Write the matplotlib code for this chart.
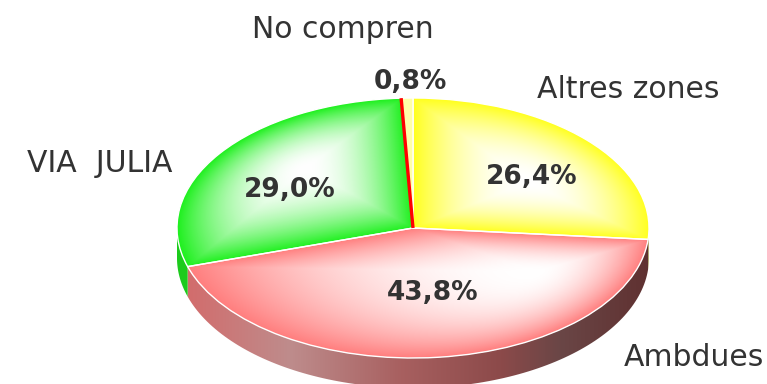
"""
3D-style pie chart: zona de residència.
"""

import numpy as np
import matplotlib
matplotlib.use('Agg')
import matplotlib.pyplot as plt
from matplotlib.colors import to_rgb
from matplotlib.patches import Polygon

# Data
labels = ['Altres zones', 'Ambdues', 'VIA  JULIA', 'No compren']
values = [26.4, 43.8, 29.0, 0.8]
pct_text = ['26,4%', '43,8%', '29,0%', '0,8%']

# Styling
base_colors = ['#FFFF1E', '#FF7E7E', '#1EF01E', '#FFFFA8']
shine_centre = [(527, 182), (535, 272), (305, 168), None]   # pixel centre of the path gradient
side_yellow = '#B4AE70'
side_green = '#1CCB1C'
text_color = '#333333'

W, H = 767, 384
cx, cy = 413, 228          # pie centre (pixels)
a, b = 236, 130            # ellipse half axes (pixels)
depth = 30                 # thickness of the side (pixels)
dd = depth / b

fig = plt.figure(figsize=(W / 100, H / 100), dpi=100)
fig.patch.set_facecolor('white')

bottom_px = H - (cy + b + depth)
ax = fig.add_axes([(cx - a) / W, bottom_px / H, 2 * a / W, (2 * b + depth) / H])

wedges, _ = ax.pie(values, startangle=90, counterclock=False, radius=1,
                   colors=base_colors,
                   wedgeprops=dict(edgecolor='white', linewidth=1.0))
ax.set_aspect('auto')
ax.set_xlim(-1, 1)
ax.set_ylim(-1 - dd, 1)
ax.axis('off')

# grid for the gradient images (data coords -> pixels)
nx, ny = 480, 300
gx = np.linspace(-1, 1, nx)
gy = np.linspace(-1 - dd, 1, ny)
X, Y = np.meshgrid(gx, gy)
PX = cx + a * X
PY = cy - b * Y
extent = [-1, 1, -1 - dd, 1]


def to_px(pts):
    return np.column_stack([cx + a * pts[:, 0], cy - b * pts[:, 1]])


def path_gradient(w, base, centre):
    # white at centre, full colour on the slice outline (convex polygon)
    th = np.radians(np.linspace(w.theta1, w.theta2, 90))
    outline = np.vstack([[0, 0], np.column_stack([np.cos(th), np.sin(th)])])
    poly = to_px(outline)
    c = np.array(centre, dtype=float)
    s = np.zeros_like(PX)
    n = len(poly)
    for i in range(n):
        p0, p1 = poly[i], poly[(i + 1) % n]
        e = p1 - p0
        nrm = np.array([e[1], -e[0]])
        h = np.dot(nrm, p0 - c)
        if h < 0:
            nrm, h = -nrm, -h
        if h < 1e-9:
            continue
        s = np.maximum(s, (nrm[0] * (PX - c[0]) + nrm[1] * (PY - c[1])) / h)
    t = np.clip(s, 0, 1) ** 2.0
    col = np.array(to_rgb(base))
    return (1 - t)[..., None] * np.ones(3) + t[..., None] * col


def side_image():
    # horizontal shading of the front wall
    xs = [180, 290, 400, 500, 560, 660]
    cols = ['#D46A6A', '#BE8C8C', '#A86060', '#8C4A4A', '#6A4646', '#5E2E2E']
    cols = np.array([to_rgb(c) for c in cols])
    px = PX[0]
    row = np.stack([np.interp(px, xs, cols[:, k]) for k in range(3)], axis=-1)
    return np.repeat(row[None, :, :], ny, axis=0)


# side walls (front half only)
side_fill = [side_yellow, None, side_green, None]
for w, sc in zip(wedges, side_fill):
    lo, hi = w.theta1, w.theta2
    while hi > 0 and lo > 0:
        lo -= 360
        hi -= 360
    while hi < -180:
        lo += 360
        hi += 360
    lo2, hi2 = max(lo, -180), min(hi, 0)
    if hi2 <= lo2:
        continue
    th = np.radians(np.linspace(lo2, hi2, 120))
    top = np.column_stack([np.cos(th), np.sin(th)])
    bot = np.column_stack([np.cos(th[::-1]), np.sin(th[::-1]) - dd])
    poly = Polygon(np.vstack([top, bot]), closed=True, facecolor='none',
                   edgecolor='none', zorder=1)
    ax.add_patch(poly)
    if sc is None:
        im = ax.imshow(side_image(), extent=extent, origin='lower',
                       aspect='auto', zorder=1, interpolation='bilinear')
        im.set_clip_path(poly)
    else:
        poly.set_facecolor(sc)

# top faces
for w, base, centre in zip(wedges, base_colors, shine_centre):
    if centre is None:
        w.set_zorder(3)
        continue
    im = ax.imshow(path_gradient(w, base, centre), extent=extent, origin='lower',
                   aspect='auto', zorder=2, interpolation='bilinear')
    im.set_clip_path(w)
    w.set_facecolor('none')
    w.set_zorder(3)

# red edge on the small slice
ang = np.radians(wedges[3].theta2)
ax.plot([0, np.cos(ang)], [0, np.sin(ang)], color='#FF0000', lw=2.4,
        solid_capstyle='butt', zorder=4)

ax.set_xlim(-1, 1)
ax.set_ylim(-1 - dd, 1)

# value labels
pct_pos = [(532, 177), (433, 293), (290, 190), (410, 82)]
for txt, (x, y) in zip(pct_text, pct_pos):
    fig.text(x / W, 1 - y / H, txt, ha='center', va='center',
             fontsize=19, fontweight='bold', color=text_color)

# category labels
cat_pos = [(628, 90), (694, 358), (100, 163), (343, 29)]
for txt, (x, y) in zip(labels, cat_pos):
    fig.text(x / W, 1 - y / H, txt, ha='center', va='center',
             fontsize=21.5, color=text_color)

fig.savefig('out.png', dpi=100, facecolor='white')
